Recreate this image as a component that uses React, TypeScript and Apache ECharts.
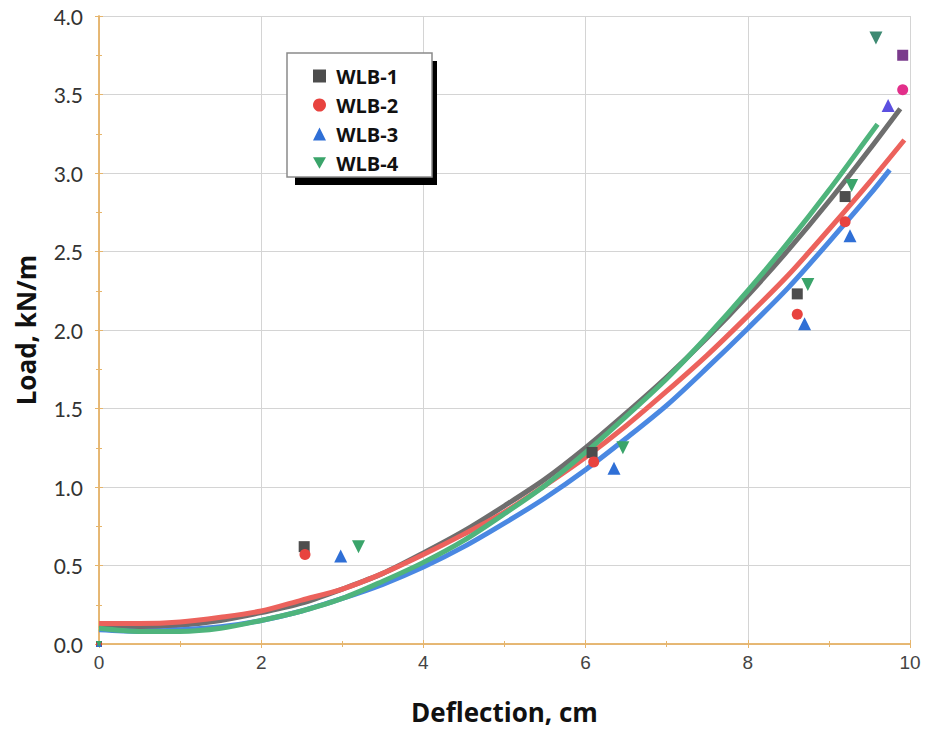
import React, { useEffect, useRef } from "react";
import * as echarts from "echarts";

// ---- data ----
const seriesNames = ["WLB-1", "WLB-2", "WLB-3", "WLB-4"];

const wlb1Points = [[0, 0], [2.53, 0.62], [6.08, 1.22], [8.61, 2.23], [9.2, 2.85], [9.91, 3.75]];
const wlb2Points = [[0, 0], [2.54, 0.57], [6.1, 1.16], [8.61, 2.1], [9.2, 2.69], [9.91, 3.53]];
const wlb3Points = [[0, 0], [2.98, 0.56], [6.35, 1.12], [8.7, 2.04], [9.26, 2.6], [9.73, 3.43]];
const wlb4Points = [[0, 0], [3.2, 0.62], [6.46, 1.25], [8.74, 2.29], [9.28, 2.92], [9.58, 3.86]];

const trend1X = [0, 0.5, 1, 1.5, 2, 2.5, 3, 3.5, 4, 4.5, 5, 5.5, 6, 6.5, 7, 7.5, 8, 8.5, 9, 9.5, 9.88];
const trend1Y = [0.12, 0.11, 0.12, 0.15, 0.2, 0.26, 0.35, 0.45, 0.58, 0.72, 0.88, 1.05, 1.25, 1.47, 1.7, 1.95, 2.22, 2.51, 2.82, 3.15, 3.41];
const trend2X = [0, 0.5, 1, 1.5, 2, 2.5, 3, 3.5, 4, 4.5, 5, 5.5, 6, 6.5, 7, 7.5, 8, 8.5, 9, 9.5, 9.93];
const trend2Y = [0.13, 0.13, 0.14, 0.17, 0.21, 0.28, 0.35, 0.45, 0.57, 0.7, 0.84, 1.01, 1.19, 1.39, 1.61, 1.84, 2.09, 2.35, 2.64, 2.94, 3.21];
const trend3X = [0, 0.5, 1, 1.5, 2, 2.5, 3, 3.5, 4, 4.5, 5, 5.5, 6, 6.5, 7, 7.5, 8, 8.5, 9, 9.5, 9.75];
const trend3Y = [0.09, 0.08, 0.09, 0.11, 0.15, 0.21, 0.29, 0.38, 0.49, 0.62, 0.77, 0.93, 1.11, 1.31, 1.52, 1.76, 2.01, 2.27, 2.56, 2.86, 3.02];
const trend4X = [0, 0.5, 1, 1.5, 2, 2.5, 3, 3.5, 4, 4.5, 5, 5.5, 6, 6.5, 7, 7.5, 8, 8.5, 9, 9.5, 9.6];
const trend4Y = [0.1, 0.08, 0.08, 0.1, 0.15, 0.21, 0.29, 0.4, 0.52, 0.66, 0.83, 1.01, 1.22, 1.45, 1.69, 1.96, 2.25, 2.56, 2.89, 3.24, 3.31];

const xTicks = [0, 2, 4, 6, 8, 10];
const yTicks = [0, 0.5, 1, 1.5, 2, 2.5, 3, 3.5, 4];

// ---- styles ----
const markerColors = ["#4d4d4d", "#e8433f", "#2f6fd6", "#3aa46a"];
const lineColors = ["#6e6e6e", "#ec625c", "#4a88e2", "#4fb47c"];
const lastPointColors = ["#7a3b8c", "#e22f8a", "#5b4fe0", "#3d8a72"];
const symbols = ["rect", "circle", "triangle", "path://M0,0 L10,0 L5,9 Z"];
const symbolSizes = [11, 11, 13, 13];
const frameColor = "#e6b56c";
const FONT = "'Open Sans', 'Liberation Sans', sans-serif";
const YFONT = "Lato, 'Open Sans', sans-serif";
const XFONT = "'Liberation Sans', Arial, sans-serif";

export default function App() {
  const ref = useRef<HTMLDivElement>(null);

  useEffect(() => {
    if (!ref.current) return;
    const chart = echarts.init(ref.current, undefined, { renderer: "svg" });

    const points = [wlb1Points, wlb2Points, wlb3Points, wlb4Points];
    const trendsX = [trend1X, trend2X, trend3X, trend4X];
    const trendsY = [trend1Y, trend2Y, trend3Y, trend4Y];

    const lineSeries = trendsX.map((xs, i) => ({
      name: seriesNames[i] + " fit",
      type: "line",
      smooth: 0.3,
      showSymbol: false,
      silent: true,
      z: 2,
      data: xs.map((x, j) => [x, trendsY[i][j]]),
      lineStyle: { color: lineColors[i], width: 5 },
      itemStyle: { color: lineColors[i] },
    }));

    const scatterSeries = points.map((pts, i) => ({
      name: seriesNames[i],
      type: "scatter",
      symbol: symbols[i],
      symbolSize: symbolSizes[i],
      clip: false,
      z: 5,
      itemStyle: { color: markerColors[i], opacity: 1 },
      data: pts.map((p, j) => {
        if (j === 0) return { value: p, symbolSize: 6 };
        if (j === pts.length - 1) return { value: p, itemStyle: { color: lastPointColors[i] } };
        return { value: p };
      }),
    }));

    const axisCommon = {
      axisLine: { show: true, lineStyle: { color: frameColor, width: 1.5 } },
      axisTick: { show: true, inside: true, length: 4, lineStyle: { color: frameColor } },
      minorTick: { show: true, splitNumber: 2, length: 3, lineStyle: { color: frameColor } },
    };

    chart.setOption({
      animation: false,
      backgroundColor: "#ffffff",
      grid: { left: 99, right: 18, top: 16, bottom: 87, containLabel: false },
      legend: {
        data: seriesNames,
        orient: "vertical",
        left: 308,
        top: 61,
        itemGap: 9,
        itemWidth: 13,
        itemHeight: 13,
        z: 10,
        formatter: (n: string) => " " + n,
        textStyle: { fontFamily: FONT, fontWeight: "bold", fontSize: 20, color: "#111" },
      },
      graphic: [
        { type: "rect", z: 8, shape: { x: 295, y: 61, width: 142, height: 124 }, style: { fill: "#000" } },
        {
          type: "rect",
          z: 9,
          shape: { x: 287, y: 53, width: 145, height: 124 },
          style: { fill: "#fff", stroke: "#8a8a8a", lineWidth: 1.5 },
        },
      ],
      xAxis: [
        {
          type: "value",
          min: xTicks[0],
          max: xTicks[xTicks.length - 1],
          interval: 2,
          name: "Deflection, cm",
          nameLocation: "middle",
          nameGap: 55,
          nameTextStyle: { fontFamily: FONT, fontWeight: "bold", fontSize: 26, color: "#111" },
          axisLabel: { fontFamily: XFONT, fontSize: 19, color: "#444", margin: 9 },
          splitLine: { show: true, lineStyle: { color: "#d4d4d4", width: 1 } },
          ...axisCommon,
        },
        {
          type: "value",
          position: "top",
          min: xTicks[0],
          max: xTicks[xTicks.length - 1],
          interval: 2,
          axisLabel: { show: false },
          splitLine: { show: false },
          ...axisCommon,
        },
      ],
      yAxis: [
        {
          type: "value",
          min: yTicks[0],
          max: yTicks[yTicks.length - 1],
          interval: 0.5,
          name: "Load, kN/m",
          nameLocation: "middle",
          nameGap: 60,
          nameTextStyle: { fontFamily: FONT, fontWeight: "bold", fontSize: 26, color: "#111" },
          axisLabel: {
            fontFamily: YFONT,
            fontSize: 21,
            color: "#333",
            margin: 16,
            formatter: (v: number) => v.toFixed(1),
          },
          splitLine: { show: true, lineStyle: { color: "#d4d4d4", width: 1 } },
          ...axisCommon,
        },
        {
          type: "value",
          position: "right",
          min: yTicks[0],
          max: yTicks[yTicks.length - 1],
          interval: 0.5,
          axisLabel: { show: false },
          splitLine: { show: false },
          ...axisCommon,
        },
      ],
      series: [...lineSeries, ...scatterSeries],
    });

    return () => chart.dispose();
  }, []);

  return (
    <div
      ref={ref}
      style={{ position: "fixed", left: 0, top: 0, width: 928, height: 731, background: "#fff" }}
    />
  );
}
